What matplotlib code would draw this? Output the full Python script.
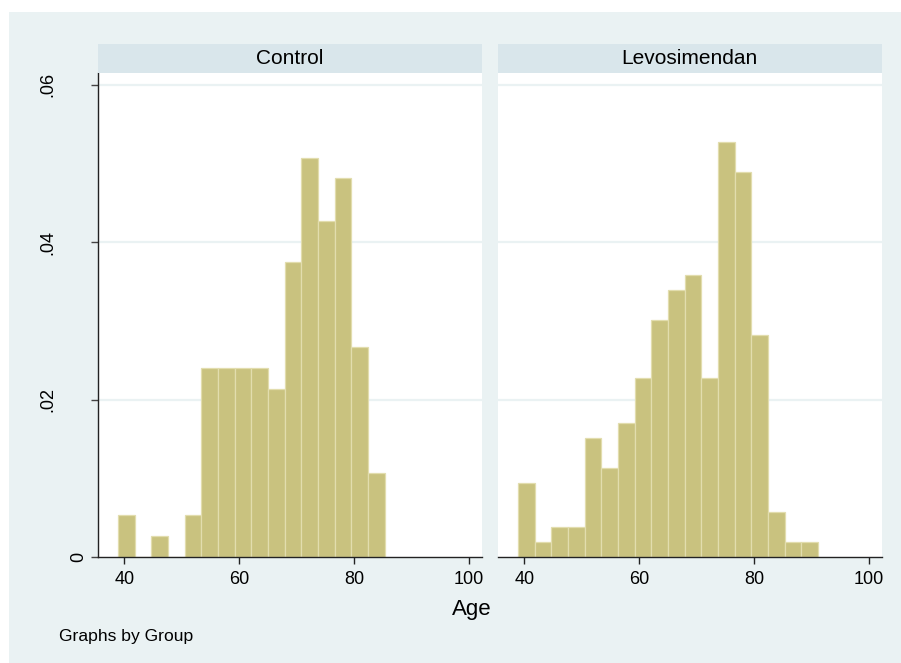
import numpy as np
import matplotlib
matplotlib.use("Agg")
import matplotlib.pyplot as plt
from matplotlib.patches import Rectangle
from matplotlib.transforms import ScaledTranslation, blended_transform_factory

plt.rcParams['font.family'] = ['Liberation Sans', 'DejaVu Sans']

# histogram data (density)
bin_start = 38.9
bin_width = 2.9
control_density = [0.00533, 0.0, 0.0027, 0.0, 0.00533, 0.024, 0.024, 0.024, 0.024,
                   0.02137, 0.0374, 0.0507, 0.0427, 0.0481, 0.0267, 0.0107]
levo_density = [0.0094, 0.0019, 0.0038, 0.0038, 0.0151, 0.0113, 0.0170, 0.0227, 0.0301,
                0.0339, 0.0358, 0.0227, 0.0527, 0.0489, 0.0282, 0.0057, 0.0019, 0.0019]
groups = ["Control", "Levosimendan"]
x_ticks = [40, 60, 80, 100]
y_ticks = [0, 0.02, 0.04, 0.06]
y_ticklabels = ["0", ".02", ".04", ".06"]

BG = "#EAF2F3"
STRIP = "#D9E6EB"
BAR = "#C9C27F"
BAR_EDGE = "#E2DDAE"

W, H = 901, 663
fig = plt.figure(figsize=(W/100, H/100), dpi=100)
fig.patch.set_facecolor("white")
# graph region (light bluish gray)
fig.patches.append(Rectangle((9/W, 0), 1 - 9/W, 1 - 12/H, transform=fig.transFigure,
                             facecolor=BG, edgecolor="none", zorder=-10))

panel_left = [97.7, 497.7]
panel_w = 384.3
top_px, bottom_px = 72.7, 557

for k, (name, dens) in enumerate(zip(groups, [control_density, levo_density])):
    l = panel_left[k] / W
    ax = fig.add_axes([l, (H - bottom_px)/H, panel_w/W, (bottom_px - top_px)/H])
    ax.set_facecolor("white")

    edges = bin_start + bin_width*np.arange(len(dens))
    ax.bar(edges, dens, width=bin_width, align="edge", color=BAR,
           edgecolor=BAR_EDGE, linewidth=0.9, zorder=2)

    ax.set_xlim(35.37, 102.26)
    ax.set_ylim(0, 0.0615)

    # gridlines
    for yv in y_ticks[1:]:
        ax.axhline(yv, color=BG, linewidth=1.6, zorder=1)

    for s in ["top", "right"]:
        ax.spines[s].set_visible(False)
    ax.spines["bottom"].set_color("#222222")
    ax.spines["bottom"].set_linewidth(1.0)
    ax.spines["bottom"].set_zorder(3)

    ax.set_xticks(x_ticks)
    ax.set_xticklabels([str(v) for v in x_ticks])
    ax.tick_params(axis="x", length=5, width=1.0, color="#222222", pad=5, labelsize=13)

    ax.set_yticks(y_ticks)
    if k == 0:
        ax.spines["left"].set_color("#222222")
        ax.spines["left"].set_linewidth(1.0)
        ax.tick_params(axis="y", length=5, width=1.0, color="#444444", labelleft=False)
        # Stata puts the rotated labels at uneven offsets, so place them by hand
        blend = blended_transform_factory(ax.transAxes, ax.transData)
        for yv, txt in zip(y_ticks, y_ticklabels):
            off = -10.7 if txt == "0" else -41.7
            tr = blend + ScaledTranslation(off/100, 0, fig.dpi_scale_trans)
            ax.text(0, yv, txt, rotation=90, ha="right", va="center",
                    fontsize=13, transform=tr, clip_on=False)
    else:
        ax.spines["left"].set_visible(False)
        ax.tick_params(axis="y", length=0, labelleft=False)

    # header strip
    sax = fig.add_axes([l, (H - top_px)/H, panel_w/W, 28.7/H])
    sax.set_facecolor(STRIP)
    sax.set_xticks([])
    sax.set_yticks([])
    for sp in sax.spines.values():
        sp.set_visible(False)
    sax.text(0.5, 0.5, name, ha="center", va="center", fontsize=15, transform=sax.transAxes)

fig.text(472/W, 1 - 610/H, "Age", ha="center", va="center", fontsize=16)
fig.text(59/W, 1 - 637/H, "Graphs by Group", ha="left", va="center", fontsize=12.6)

fig.savefig("out.png", dpi=100)
